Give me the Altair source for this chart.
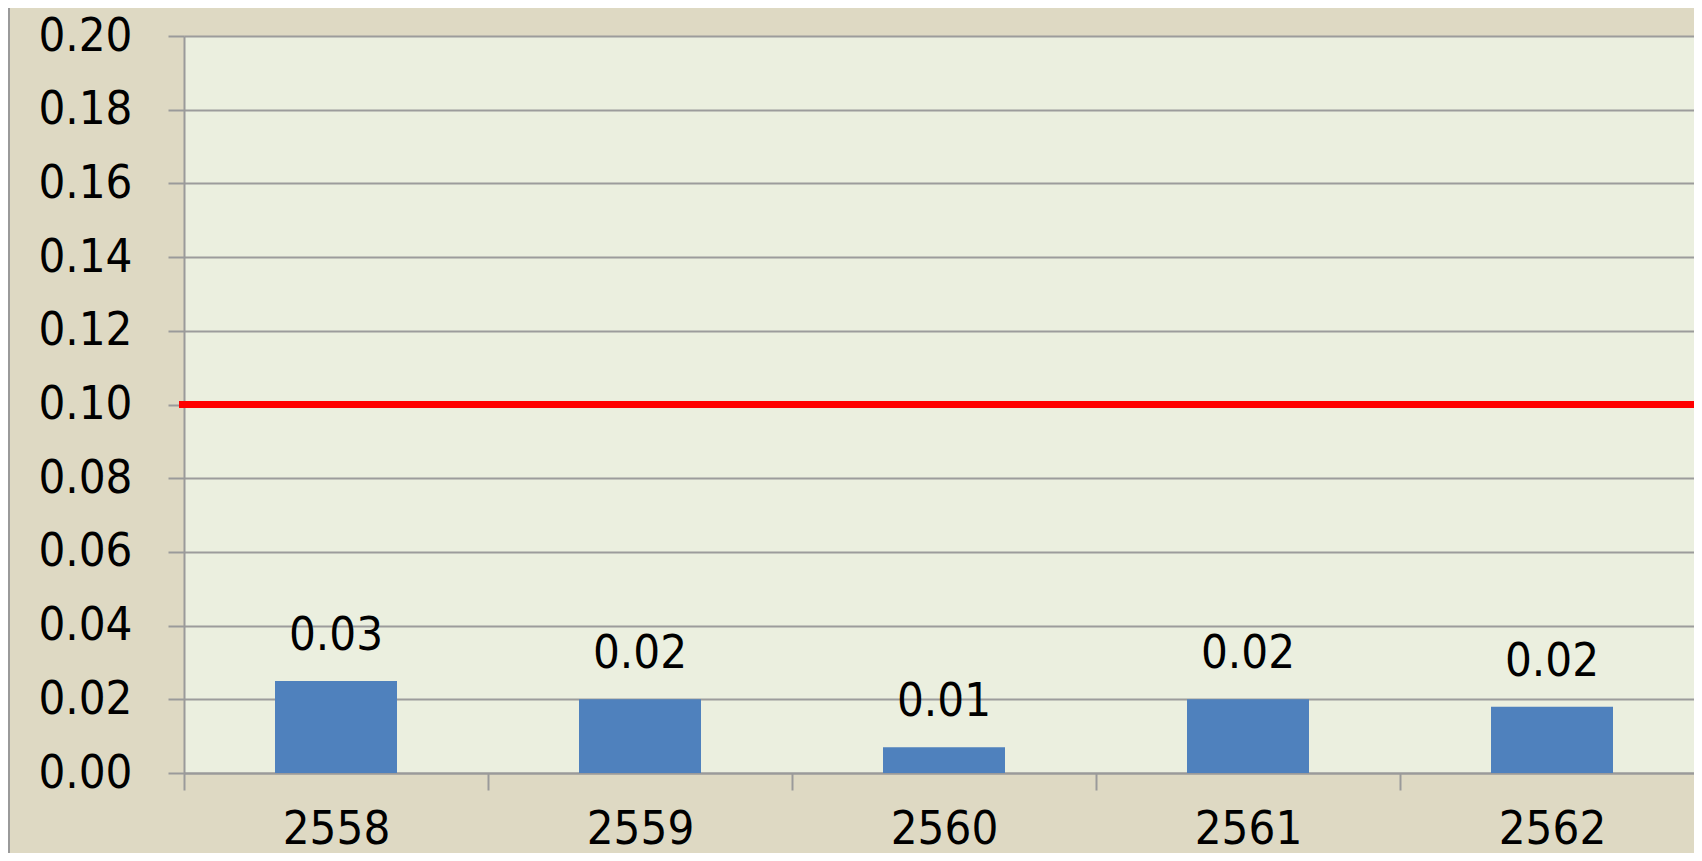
import altair as alt
import pandas as pd

years = ["2558", "2559", "2560", "2561", "2562"]
values = [0.025, 0.020, 0.007, 0.020, 0.018]
y_ticks = [0.00, 0.02, 0.04, 0.06, 0.08, 0.10, 0.12, 0.14, 0.16, 0.18, 0.20]
limit_value = 0.10

FONT = "DejaVu Sans Condensed, Liberation Sans"
W, H = 1510, 737
BAND_RANGE = 1520

df = pd.DataFrame({"year": years, "value": values})

x_enc = alt.X(
    "year:N",
    sort=years,
    scale=alt.Scale(paddingInner=0, paddingOuter=0, range=[0, BAND_RANGE]),
    axis=alt.Axis(
        title=None, labelAngle=0, tickBand="extent", tickSize=17, tickWidth=2,
        tickColor="#9a9a9a", domainColor="#9a9a9a", domainWidth=2,
        labelFontSize=47, labelFont=FONT, labelColor="#000000", labelPadding=16,
        grid=False,
    ),
)
y_enc = alt.Y(
    "value:Q",
    scale=alt.Scale(domain=[0, 0.2], nice=False),
    axis=alt.Axis(
        title=None, values=y_ticks, format=".2f", tickSize=16, tickWidth=2,
        tickColor="#9a9a9a", domainColor="#9a9a9a", domainWidth=2,
        gridColor="#9c9c9c", gridWidth=2, labelFontSize=47, labelFont=FONT,
        labelColor="#000000", labelPadding=36, labelAlign="right",
        labelBaseline="middle",
    ),
)

base = alt.Chart(df)
bars = base.mark_bar(size=122, color="#4F81BD").encode(x=x_enc, y=y_enc)
labels = base.mark_text(
    dy=-31, baseline="alphabetic", align="center", fontSize=47, font=FONT, color="#000000"
).encode(
    x=alt.X("year:N", sort=years),
    y=alt.Y("value:Q"),
    text=alt.Text("value:Q", format=".2f"),
)
limit = alt.Chart(pd.DataFrame({"limit": [limit_value]})).mark_rule(
    color="#FF0000", strokeWidth=7
).encode(y=alt.Y("limit:Q"), x=alt.value(-5), x2=alt.value(W))

sep = alt.Chart(pd.DataFrame({"a": [0]})).mark_rule(color="#9a9a9a", strokeWidth=2).encode(
    x=alt.value(-175), y=alt.value(-28), y2=alt.value(H + 80)
)

chart = (
    alt.layer(bars, limit, labels, sep)
    .properties(
        width=W,
        height=H,
        padding={"left": 176, "top": 28, "right": 0, "bottom": 80},
        autosize=alt.AutoSizeParams(type="none"),
        background="#DED9C3",
    )
    .configure_view(fill="#EBEFDF", stroke="transparent")
)

chart.save("out.html", embed_options={"renderer": "svg", "actions": False})
